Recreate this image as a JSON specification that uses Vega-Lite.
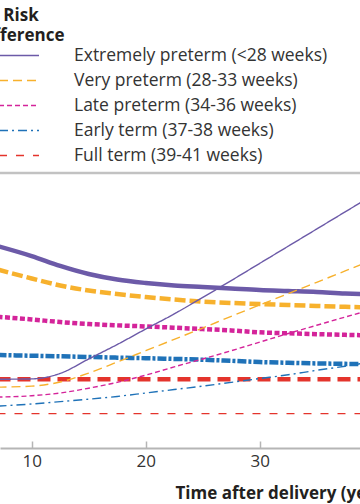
{
  "$schema": "https://vega.github.io/schema/vega-lite/v6.json",
  "width": 360,
  "height": 275,
  "autosize": {"type": "none"},
  "padding": {"top": 173, "left": 0, "right": 0, "bottom": 56},
  "background": "white",
  "data": {"values": [
    {"t": 7, "group": "Extremely preterm (<28 weeks)", "hr": 1.969, "rd": 1.0},
    {"t": 10, "group": "Extremely preterm (<28 weeks)", "hr": 1.896, "rd": 1.01},
    {"t": 12.5, "group": "Extremely preterm (<28 weeks)", "hr": 1.824, "rd": 1.17},
    {"t": 15, "group": "Extremely preterm (<28 weeks)", "hr": 1.765, "rd": 1.59},
    {"t": 17.5, "group": "Extremely preterm (<28 weeks)", "hr": 1.725, "rd": 2.01},
    {"t": 20, "group": "Extremely preterm (<28 weeks)", "hr": 1.7, "rd": 2.46},
    {"t": 22.5, "group": "Extremely preterm (<28 weeks)", "hr": 1.682, "rd": 2.9},
    {"t": 25, "group": "Extremely preterm (<28 weeks)", "hr": 1.671, "rd": 3.38},
    {"t": 27.5, "group": "Extremely preterm (<28 weeks)", "hr": 1.66, "rd": 3.87},
    {"t": 30, "group": "Extremely preterm (<28 weeks)", "hr": 1.649, "rd": 4.37},
    {"t": 32.5, "group": "Extremely preterm (<28 weeks)", "hr": 1.642, "rd": 4.87},
    {"t": 35, "group": "Extremely preterm (<28 weeks)", "hr": 1.635, "rd": 5.37},
    {"t": 37.5, "group": "Extremely preterm (<28 weeks)", "hr": 1.624, "rd": 5.87},
    {"t": 39, "group": "Extremely preterm (<28 weeks)", "hr": 1.62, "rd": 6.17},
    {"t": 7, "group": "Very preterm (28-33 weeks)", "hr": 1.798, "rd": 0.77},
    {"t": 10, "group": "Very preterm (28-33 weeks)", "hr": 1.733, "rd": 0.8},
    {"t": 12.5, "group": "Very preterm (28-33 weeks)", "hr": 1.682, "rd": 0.92},
    {"t": 15, "group": "Very preterm (28-33 weeks)", "hr": 1.645, "rd": 1.18},
    {"t": 17.5, "group": "Very preterm (28-33 weeks)", "hr": 1.62, "rd": 1.5},
    {"t": 20, "group": "Very preterm (28-33 weeks)", "hr": 1.598, "rd": 1.83},
    {"t": 22.5, "group": "Very preterm (28-33 weeks)", "hr": 1.58, "rd": 2.16},
    {"t": 25, "group": "Very preterm (28-33 weeks)", "hr": 1.565, "rd": 2.49},
    {"t": 27.5, "group": "Very preterm (28-33 weeks)", "hr": 1.555, "rd": 2.83},
    {"t": 30, "group": "Very preterm (28-33 weeks)", "hr": 1.547, "rd": 3.16},
    {"t": 32.5, "group": "Very preterm (28-33 weeks)", "hr": 1.54, "rd": 3.49},
    {"t": 35, "group": "Very preterm (28-33 weeks)", "hr": 1.533, "rd": 3.82},
    {"t": 37.5, "group": "Very preterm (28-33 weeks)", "hr": 1.527, "rd": 4.15},
    {"t": 39, "group": "Very preterm (28-33 weeks)", "hr": 1.524, "rd": 4.35},
    {"t": 7, "group": "Late preterm (34-36 weeks)", "hr": 1.454, "rd": 0.48},
    {"t": 10, "group": "Late preterm (34-36 weeks)", "hr": 1.435, "rd": 0.52},
    {"t": 12.5, "group": "Late preterm (34-36 weeks)", "hr": 1.416, "rd": 0.6},
    {"t": 15, "group": "Late preterm (34-36 weeks)", "hr": 1.402, "rd": 0.74},
    {"t": 17.5, "group": "Late preterm (34-36 weeks)", "hr": 1.392, "rd": 0.91},
    {"t": 20, "group": "Late preterm (34-36 weeks)", "hr": 1.384, "rd": 1.12},
    {"t": 22.5, "group": "Late preterm (34-36 weeks)", "hr": 1.375, "rd": 1.36},
    {"t": 25, "group": "Late preterm (34-36 weeks)", "hr": 1.365, "rd": 1.59},
    {"t": 27.5, "group": "Late preterm (34-36 weeks)", "hr": 1.355, "rd": 1.83},
    {"t": 30, "group": "Late preterm (34-36 weeks)", "hr": 1.341, "rd": 2.08},
    {"t": 32.5, "group": "Late preterm (34-36 weeks)", "hr": 1.334, "rd": 2.33},
    {"t": 35, "group": "Late preterm (34-36 weeks)", "hr": 1.328, "rd": 2.57},
    {"t": 37.5, "group": "Late preterm (34-36 weeks)", "hr": 1.323, "rd": 2.81},
    {"t": 39, "group": "Late preterm (34-36 weeks)", "hr": 1.32, "rd": 2.95},
    {"t": 7, "group": "Early term (37-38 weeks)", "hr": 1.176, "rd": 0.22},
    {"t": 10, "group": "Early term (37-38 weeks)", "hr": 1.171, "rd": 0.28},
    {"t": 12.5, "group": "Early term (37-38 weeks)", "hr": 1.167, "rd": 0.35},
    {"t": 15, "group": "Early term (37-38 weeks)", "hr": 1.162, "rd": 0.42},
    {"t": 17.5, "group": "Early term (37-38 weeks)", "hr": 1.157, "rd": 0.5},
    {"t": 20, "group": "Early term (37-38 weeks)", "hr": 1.153, "rd": 0.6},
    {"t": 22.5, "group": "Early term (37-38 weeks)", "hr": 1.148, "rd": 0.7},
    {"t": 25, "group": "Early term (37-38 weeks)", "hr": 1.142, "rd": 0.8},
    {"t": 27.5, "group": "Early term (37-38 weeks)", "hr": 1.134, "rd": 0.91},
    {"t": 30, "group": "Early term (37-38 weeks)", "hr": 1.125, "rd": 1.02},
    {"t": 32.5, "group": "Early term (37-38 weeks)", "hr": 1.12, "rd": 1.13},
    {"t": 35, "group": "Early term (37-38 weeks)", "hr": 1.115, "rd": 1.26},
    {"t": 37.5, "group": "Early term (37-38 weeks)", "hr": 1.112, "rd": 1.38},
    {"t": 39, "group": "Early term (37-38 weeks)", "hr": 1.11, "rd": 1.46},
    {"t": 7, "group": "Full term (39-41 weeks)", "hr": 1.0, "rd": 0.0},
    {"t": 20, "group": "Full term (39-41 weeks)", "hr": 1.0, "rd": 0.0},
    {"t": 39, "group": "Full term (39-41 weeks)", "hr": 1.0, "rd": 0.0}
  ]},
  "layer": [
    {
      "data": {"values": [{"edge": 1}]},
      "mark": {"type": "rule", "color": "#c2c2c2", "strokeWidth": 2.5},
      "encoding": {
        "y": {"field": "edge", "type": "quantitative", "scale": {"domain": [0, 1]}, "axis": null}
      }
    },
    {
      "encoding": {
        "x": {
          "field": "t", "type": "quantitative",
          "scale": {"domain": [7.22, 38.8], "nice": false, "zero": false},
          "axis": {"values": [10, 20, 30], "title": "Time after delivery (years)"}
        }
      },
      "layer": [
        {
          "encoding": {
            "y": {"field": "hr", "type": "quantitative", "scale": {"domain": [0.5, 2.5], "nice": false, "zero": false}, "axis": null}
          },
          "layer": [
            {"transform": [{"filter": {"field": "group", "equal": "Full term (39-41 weeks)"}}],
             "mark": {"type": "line", "clip": true, "strokeWidth": 4.5, "color": "#e4342c", "strokeDash": [13, 7]}},
            {"transform": [{"filter": {"field": "group", "equal": "Early term (37-38 weeks)"}}],
             "mark": {"type": "line", "clip": true, "interpolate": "monotone", "strokeWidth": 4.5, "color": "#1f72b8", "strokeDash": [9, 2, 3, 2]}},
            {"transform": [{"filter": {"field": "group", "equal": "Late preterm (34-36 weeks)"}}],
             "mark": {"type": "line", "clip": true, "interpolate": "monotone", "strokeWidth": 4.5, "color": "#d4249a", "strokeDash": [5, 2.5]}},
            {"transform": [{"filter": {"field": "group", "equal": "Very preterm (28-33 weeks)"}}],
             "mark": {"type": "line", "clip": true, "interpolate": "monotone", "strokeWidth": 4.5, "color": "#f7b12d", "strokeDash": [11, 4]}},
            {"transform": [{"filter": {"field": "group", "equal": "Extremely preterm (<28 weeks)"}}],
             "mark": {"type": "line", "clip": true, "interpolate": "monotone", "strokeWidth": 4.5, "color": "#6c5aa8"}}
          ]
        },
        {
          "mark": {"type": "line", "clip": true, "interpolate": "monotone", "strokeWidth": 1.4},
          "encoding": {
            "y": {"field": "rd", "type": "quantitative", "scale": {"domain": [-1, 7], "nice": false, "zero": false}, "axis": null},
            "color": {
              "field": "group", "type": "nominal", "title": ["Risk", "difference"],
              "scale": {
                "domain": ["Extremely preterm (<28 weeks)", "Very preterm (28-33 weeks)", "Late preterm (34-36 weeks)", "Early term (37-38 weeks)", "Full term (39-41 weeks)"],
                "range": ["#6c5aa8", "#f7b12d", "#d4249a", "#1f72b8", "#e4342c"]
              },
              "legend": {"encode": {"title": {"update": {"dx": {"value": 13}}}}}
            },
            "strokeDash": {
              "field": "group", "type": "nominal", "title": ["Risk", "difference"],
              "scale": {
                "domain": ["Extremely preterm (<28 weeks)", "Very preterm (28-33 weeks)", "Late preterm (34-36 weeks)", "Early term (37-38 weeks)", "Full term (39-41 weeks)"],
                "range": [[1, 0], [9, 5], [5, 3], [9, 4, 2, 4], [8, 9]]
              }
            }
          }
        }
      ],
      "resolve": {"scale": {"y": "independent"}}
    }
  ],
  "resolve": {"scale": {"y": "independent"}},
  "config": {
    "view": {"stroke": null},
    "font": "Open Sans",
    "axis": {"grid": false},
    "axisX": {
      "domainColor": "#b5b5b5", "domainWidth": 2,
      "tickColor": "#b5b5b5", "tickWidth": 1.5, "tickSize": -7,
      "labelFont": "Open Sans", "labelFontSize": 17, "labelColor": "#333333", "labelPadding": 12,
      "titleFont": "Open Sans", "titleFontSize": 17, "titleFontWeight": "bold", "titleColor": "#231f20",
      "titleX": 175, "titleY": 50, "titleAlign": "left", "titleBaseline": "alphabetic", "titleAnchor": "start"
    },
    "legend": {
      "orient": "none", "legendX": -22, "legendY": -165, "padding": 0,
      "symbolType": "M-2,0H2", "symbolSize": 400, "symbolStrokeWidth": 1.5,
      "labelFont": "Open Sans", "labelFontSize": 17.5, "labelColor": "#333333", "labelOffset": 44, "labelLimit": 400,
      "titleFont": "Open Sans", "titleFontSize": 17, "titleFontWeight": "bold", "titleColor": "#231f20",
      "titleLineHeight": 19.5, "titleAnchor": "start", "titleAlign": "center", "titlePadding": 0,
      "rowPadding": 5
    }
  }
}
